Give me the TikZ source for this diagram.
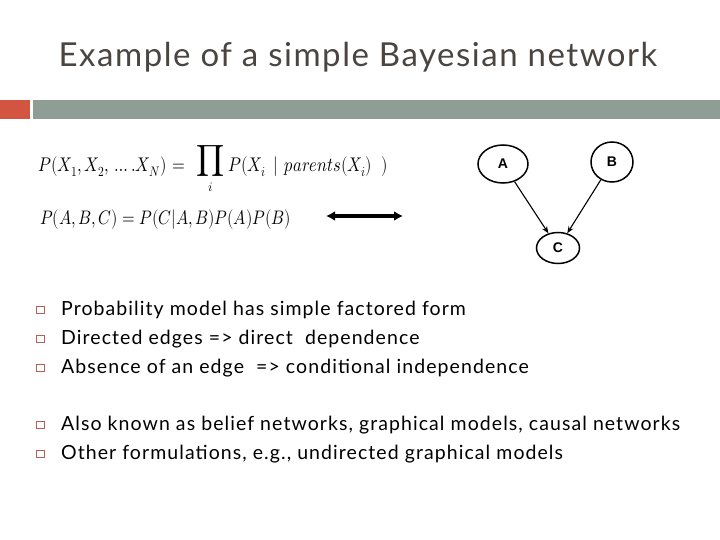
\documentclass[tikz,border=0pt]{standalone}
\usepackage{amsmath}
\usepackage{graphicx}
\usepackage{fontspec}
\usepackage{unicode-math}
\setmainfont{Lato}
\newfontfamily\arialfont{Liberation Sans}
\newfontfamily\titlefont[LetterSpace=4.6]{Lato}
\newfontfamily\bodyfont[LetterSpace=5.5]{Lato}
\usetikzlibrary{shapes.geometric,arrows.meta}
\definecolor{barred}{HTML}{D35440}
\definecolor{bargray}{HTML}{8F9E95}
\definecolor{titlecol}{HTML}{4A4540}
\definecolor{bulletcol}{HTML}{B0625A}
\newcommand{\tallmath}[1]{\scalebox{1}[1.2]{#1}}
\tikzset{
  gnode/.style={ellipse,draw,line width=1.5pt,inner sep=0pt,font=\arialfont\bfseries\fontsize{14}{16}\selectfont},
  gedge/.style={-{Stealth[length=7pt,width=5.5pt]},line width=1.1pt},
  bullettext/.style={anchor=base west,inner sep=0pt,font=\bodyfont\fontsize{19.5}{22}\selectfont},
  bulletbox/.style={draw=bulletcol,line width=1.2pt,minimum size=7.5pt,inner sep=0pt},
  mathone/.style={inner sep=0pt,font=\fontsize{16.5}{20}\selectfont},
  mathtwo/.style={inner sep=0pt,font=\fontsize{16.3}{19}\selectfont}
}
\begin{document}
\begin{tikzpicture}[x=1pt,y=-1pt]
\useasboundingbox (0,0) rectangle (720,540);
% title
\node[anchor=base,inner sep=0pt,text=titlecol,font=\titlefont\fontsize{33}{38}\selectfont] (title) at (358,67) {Example of a simple Bayesian network};
% bars
\fill[barred] (0,100) rectangle (30,119);
\fill[bargray] (33,100) rectangle (720,119);
% formula 1
\node[mathone,anchor=base west] (f1a) at (38,172) {\tallmath{$P(X_1,X_2,\,\ldots.X_N)$}};
\node[mathone,anchor=base] (f1eq) at (179,172) {\tallmath{$=$}};
\node[inner sep=0pt,font=\fontsize{22}{24}\selectfont] (f1prod) at (211,161.5) {$\displaystyle\prod$};
\node[inner sep=0pt,font=\fontsize{13}{14}\selectfont] (f1i) at (211,187) {$i$};
\node[mathone,anchor=base west] (f1b) at (228,172) {\tallmath{$P(X_i\;\,|\;\,parents(X_i)\;\;)$}};
% formula 2
\node[mathtwo,anchor=base west] (f2) at (40,225) {\tallmath{$P(A,B,C)=P(C|A,B)P(A)P(B)$}};
% double arrow
\coordinate (dl) at (326,216);
\coordinate (dr) at (403,216);
\draw[{Latex[length=9pt,width=10pt]}-{Latex[length=9pt,width=10pt]},line width=3.5pt] (dl) -- (dr);
% graph
\node[gnode,minimum width=50pt,minimum height=38pt] (A) at (503,164) {A};
\node[gnode,minimum width=42pt,minimum height=40pt] (B) at (612,162) {B};
\node[gnode,minimum width=43pt,minimum height=31pt] (C) at (558,248) {C};
\draw[gedge] (A) -- (C);
\draw[gedge] (B) -- (C);
% bullets
\foreach \y/\t [count=\i] in {
  309/{Probability model has simple factored form},
  338/{Directed edges => direct\ \ dependence},
  367/{Absence of an edge\ \ => conditional independence},
  424/{Also known as belief networks, graphical models, causal networks},
  453/{Other formulations, e.g., undirected graphical models}}{
  \node[bulletbox] (b\i) at (40.5,\y+1) {};
  \node[bullettext] (t\i) at (61,\y+6) {\t};
}
\end{tikzpicture}
\end{document}
